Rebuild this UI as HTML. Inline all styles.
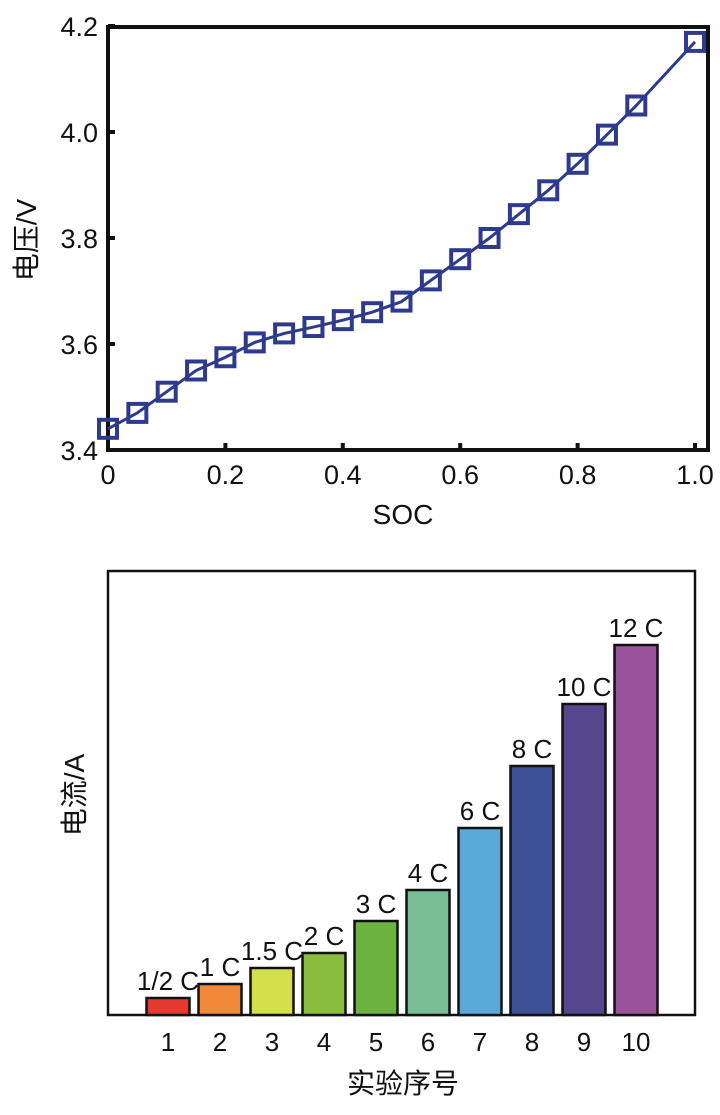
<!DOCTYPE html>
<html><head><meta charset="utf-8"><style>
body{margin:0;background:#fff;width:720px;height:1110px;overflow:hidden}
svg text{font-family:"Liberation Sans","Noto Sans CJK SC",sans-serif;fill:#111}
</style></head><body>
<svg id="s" width="720" height="1110">
<g id="topg"></g>
<g id="botg"></g>
</svg>
<script>
const socVals=[0,0.05,0.1,0.15,0.2,0.25,0.3,0.35,0.4,0.45,0.5,0.55,0.6,0.65,0.7,0.75,0.8,0.85,0.9,1.0];
const voltVals=[3.44,3.47,3.51,3.55,3.575,3.603,3.62,3.632,3.645,3.66,3.68,3.72,3.76,3.80,3.845,3.89,3.94,3.995,4.05,4.17];
const xTicks=[0,0.2,0.4,0.6,0.8,1.0];
const xTickLabels=["0","0.2","0.4","0.6","0.8","1.0"];
const yTicks=[3.4,3.6,3.8,4.0,4.2];
const yTickLabels=["3.4","3.6","3.8","4.0","4.2"];
const expIds=["1","2","3","4","5","6","7","8","9","10"];
const currentVals=[17,31,47,62,94,125,187,249,311,370];
const rateLabels=["1/2 C","1 C","1.5 C","2 C","3 C","4 C","6 C","8 C","10 C","12 C"];
const barColors=["#e23a2e","#f08a3a","#d5df4b","#8abd3d","#6cb33f","#78be96","#5aa9d8","#3e5196","#56488e","#98529a"];
const NS="http://www.w3.org/2000/svg";
function mk(p,t,a,txt){const e=document.createElementNS(NS,t);for(const k in a)e.setAttribute(k,a[k]);if(txt!==undefined)e.textContent=txt;p.appendChild(e);return e;}
const topG=document.getElementById('topg'),botG=document.getElementById('botg');
const X=v=>108+v*587, Y=v=>450-(v-3.4)*530;
let r=mk(topG,'rect',{x:108,y:27,width:600,height:423,fill:'none',stroke:'#111','stroke-width':4});


xTicks.forEach((t,i)=>{
 let l=mk(topG,'line',{x1:X(t),x2:X(t),y1:450,y2:443,stroke:'#111','stroke-width':4});
 
 
 let tx=mk(topG,'text',{x:X(t),y:484,'text-anchor':'middle','font-size':27},xTickLabels[i]);
 
 
});
yTicks.forEach((t,i)=>{
 let l=mk(topG,'line',{x1:108,x2:115,y1:Y(t),y2:Y(t),stroke:'#111','stroke-width':4});
 
 
 let tx=mk(topG,'text',{x:98,y:Y(t)+10,'text-anchor':'end','font-size':27},yTickLabels[i]);
 
 
});
let xt=mk(topG,'text',{x:403,y:524,'text-anchor':'middle','font-size':28},'SOC');


let yt=mk(topG,'text',{x:0,y:0,'text-anchor':'middle','font-size':28,transform:'translate(36,240) rotate(-90)'},'电压/V');


let pl=mk(topG,'polyline',{points:socVals.map((s,i)=>X(s)+','+Y(voltVals[i])).join(' '),fill:'none',stroke:'#2e3a8c','stroke-width':3});


socVals.forEach((s,i)=>{
 let m=mk(topG,'rect',{x:X(s)-9,y:Y(voltVals[i])-9,width:18,height:18,fill:'none',stroke:'#2e3a8c','stroke-width':4});
 
 
});
const base=1015;
let f=mk(botG,'rect',{x:108,y:571,width:587,height:444,fill:'none',stroke:'#111','stroke-width':2.5});


expIds.forEach((id,i)=>{
 const cx=168+i*52, h=currentVals[i];
 let b=mk(botG,'rect',{x:cx-21.5,y:base-h,width:43,height:h,fill:barColors[i],stroke:'#111','stroke-width':2.5});
 
 
 let lb=mk(botG,'text',{x:cx,y:base-h-8,'text-anchor':'middle','font-size':26},rateLabels[i]);
 
 
 let tl=mk(botG,'text',{x:cx,y:1051,'text-anchor':'middle','font-size':26},id);
 
 
});
let bx=mk(botG,'text',{x:403,y:1093,'text-anchor':'middle','font-size':28},'实验序号');


let by=mk(botG,'text',{x:0,y:0,'text-anchor':'middle','font-size':28,transform:'translate(84,795) rotate(-90)'},'电流/A');


</script>
</body></html>
